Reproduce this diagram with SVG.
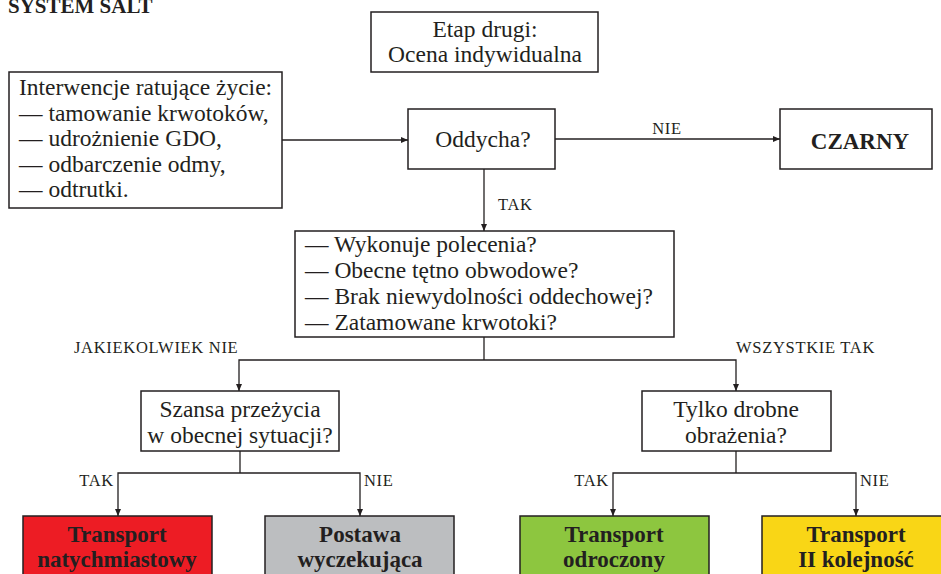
<svg xmlns="http://www.w3.org/2000/svg" width="941" height="574" viewBox="0 0 941 574">
  <style>
    .box { fill: #ffffff; stroke: #231f20; stroke-width: 1.5; }
    .t { font-size: 23.5px; fill: #231f20; }
    .tc { text-anchor: middle; }
    .b { font-weight: bold; font-size: 23px; }
    .lbl { font-size: 16.5px; letter-spacing: 0.7px; fill: #231f20; }
    .wire { fill: none; stroke: #231f20; stroke-width: 1.3; }
    .red { fill: #ed1c24; stroke: #231f20; stroke-width: 1.5; }
    .grey { fill: #bcbec0; stroke: #231f20; stroke-width: 1.5; }
    .green { fill: #8dc63f; stroke: #231f20; stroke-width: 1.5; }
    .yellow { fill: #f9d616; stroke: #231f20; stroke-width: 1.5; }
  </style>
  <defs>
    <marker id="arrow" markerUnits="userSpaceOnUse" markerWidth="8" markerHeight="8" refX="7" refY="4" orient="auto">
      <path d="M0,1 L7,4 L0,7 Z" fill="#231f20"/>
    </marker>
  </defs>

  <rect width="941" height="574" fill="#ffffff"/>

  <g font-family="'Liberation Serif', 'Times New Roman', serif">
  <text class="t b" x="8" y="13" style="font-size:21px">SYSTEM SALT</text>

  <g id="etap">
    <rect class="box" x="371" y="12" width="227" height="60"/>
    <text class="t tc" x="485" y="37">Etap drugi:</text>
    <text class="t tc" x="485" y="62">Ocena indywidualna</text>
  </g>

  <g id="interwencje">
    <rect class="box" x="9" y="72" width="273" height="136"/>
    <text class="t" x="19" y="95">Interwencje ratujące życie:</text>
    <text class="t" x="19" y="121">— tamowanie krwotoków,</text>
    <text class="t" x="19" y="146">— udrożnienie GDO,</text>
    <text class="t" x="19" y="172">— odbarczenie odmy,</text>
    <text class="t" x="19" y="197">— odtrutki.</text>
  </g>

  <g id="oddycha">
    <rect class="box" x="408" y="109" width="147" height="60"/>
    <text class="t tc" x="483" y="147">Oddycha?</text>
  </g>

  <g id="czarny">
    <rect class="box" x="780" y="109" width="152" height="60"/>
    <text class="t tc b" x="860" y="149">CZARNY</text>
  </g>

  <g id="kryteria">
    <rect class="box" x="295" y="231" width="379" height="106"/>
    <text class="t" x="305" y="252">— Wykonuje polecenia?</text>
    <text class="t" x="305" y="278">— Obecne tętno obwodowe?</text>
    <text class="t" x="305" y="304">— Brak niewydolności oddechowej?</text>
    <text class="t" x="305" y="330">— Zatamowane krwotoki?</text>
  </g>

  <g id="szansa">
    <rect class="box" x="141" y="391" width="198" height="60"/>
    <text class="t tc" x="240" y="417">Szansa przeżycia</text>
    <text class="t tc" x="240" y="443">w obecnej sytuacji?</text>
  </g>

  <g id="drobne">
    <rect class="box" x="642" y="391" width="189" height="60"/>
    <text class="t tc" x="736" y="417">Tylko drobne</text>
    <text class="t tc" x="736" y="443">obrażenia?</text>
  </g>

  <g id="natychmiastowy">
    <rect class="red" x="23" y="516" width="189" height="64"/>
    <text class="t tc b" x="117" y="542">Transport</text>
    <text class="t tc b" x="117" y="567">natychmiastowy</text>
  </g>

  <g id="wyczekujaca">
    <rect class="grey" x="265" y="516" width="189" height="64"/>
    <text class="t tc b" x="360" y="542">Postawa</text>
    <text class="t tc b" x="360" y="567">wyczekująca</text>
  </g>

  <g id="odroczony">
    <rect class="green" x="520" y="516" width="189" height="64"/>
    <text class="t tc b" x="614" y="542">Transport</text>
    <text class="t tc b" x="614" y="567">odroczony</text>
  </g>

  <g id="druga-kolejnosc">
    <rect class="yellow" x="762" y="516" width="189" height="64"/>
    <text class="t tc b" x="856" y="542">Transport</text>
    <text class="t tc b" x="856" y="567">II kolejność</text>
  </g>

  <g id="connectors">
    <path class="wire" d="M282,140 H408" marker-end="url(#arrow)"/>
    <path class="wire" d="M555,139 H780" marker-end="url(#arrow)"/>
    <path class="wire" d="M484,169 V231" marker-end="url(#arrow)"/>
    <path class="wire" d="M484,337 V360"/>
    <path class="wire" d="M484,360 H239 V391" marker-end="url(#arrow)"/>
    <path class="wire" d="M484,360 H736 V391" marker-end="url(#arrow)"/>
    <path class="wire" d="M240,451 V473"/>
    <path class="wire" d="M240,473 H118 V516" marker-end="url(#arrow)"/>
    <path class="wire" d="M240,473 H360 V516" marker-end="url(#arrow)"/>
    <path class="wire" d="M736,451 V473"/>
    <path class="wire" d="M736,473 H613 V516" marker-end="url(#arrow)"/>
    <path class="wire" d="M736,473 H856 V516" marker-end="url(#arrow)"/>

    <text class="lbl" x="667" y="134" text-anchor="middle">NIE</text>
    <text class="lbl" x="498" y="210">TAK</text>
    <text class="lbl" x="74" y="353">JAKIEKOLWIEK NIE</text>
    <text class="lbl" x="736" y="353">WSZYSTKIE TAK</text>
    <text class="lbl" x="114" y="486" text-anchor="end">TAK</text>
    <text class="lbl" x="364" y="486">NIE</text>
    <text class="lbl" x="609" y="486" text-anchor="end">TAK</text>
    <text class="lbl" x="860" y="486">NIE</text>
  </g>
  </g>
</svg>
